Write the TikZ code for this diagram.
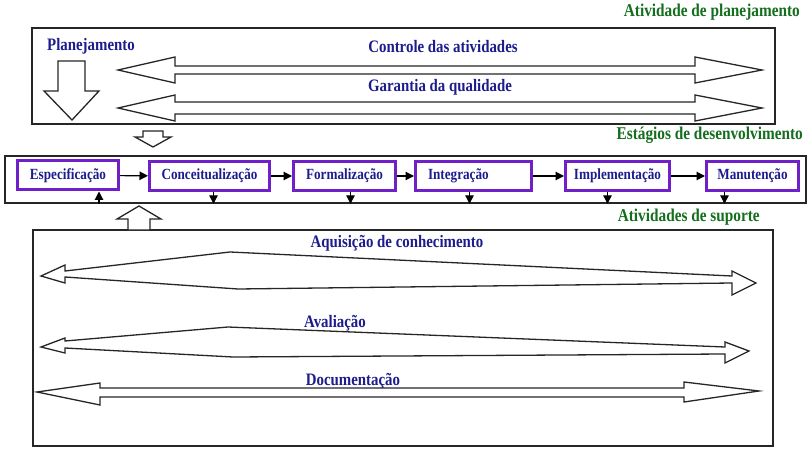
\documentclass[tikz,border=0pt]{standalone}
\usepackage{fontspec}
\setmainfont{Liberation Serif}[FakeStretch=0.85]
\usetikzlibrary{arrows.meta}

\definecolor{lblblue}{RGB}{28,28,140}
\definecolor{stagepurple}{RGB}{112,32,200}
\definecolor{lblgreen}{RGB}{20,110,30}

\tikzset{
  frame/.style={draw=black!85, line width=1.6pt, inner sep=0pt},
  blockarrow/.style={draw=black!85, line width=1.3pt, fill=white, line join=miter},
  stagebox/.style={draw=stagepurple, line width=3pt, minimum height=29pt, inner sep=0pt,
    font=\fontsize{15.5}{18}\selectfont\bfseries, text=lblblue},
  biglabel/.style={font=\fontsize{17.5}{20}\selectfont\bfseries, text=lblblue, inner sep=0pt},
  phaselabel/.style={font=\fontsize{18}{20}\selectfont\bfseries, text=lblgreen, inner sep=0pt},
  flow/.style={-{Triangle[length=8.5pt,width=8.5pt]}, line width=1.1pt},
}

\begin{document}
\begin{tikzpicture}[x=1pt, y=-1pt]
    \useasboundingbox (0,0) rectangle (810,454);

    % Atividade de planejamento
    \node[phaselabel, anchor=east] (planphase) at (800,12) {Atividade de planejamento};
    \node[frame, minimum width=743pt, minimum height=96pt] (planframe) at (403.5,76) {};
    \node[biglabel] (plan) at (91,46) {Planejamento};
    \draw[blockarrow] (58,61) -- (85,61) -- (85,91) -- (99,91) -- (72,120) -- (44,91) -- (58,91) -- cycle;

    \node[biglabel] (ctrl) at (443,47) {Controle das atividades};
    \draw[blockarrow] (118,70) -- (175,57) -- (175,66) -- (695,66) -- (695,57) -- (762,70)
        -- (695,83) -- (695,74) -- (175,74) -- (175,83) -- cycle;

    \node[biglabel] (qual) at (440,87) {Garantia da qualidade};
    \draw[blockarrow] (118,108) -- (175,95) -- (175,102) -- (695,102) -- (695,95) -- (762,108)
        -- (695,121) -- (695,114) -- (175,114) -- (175,121) -- cycle;

    % seta para os estagios
    \draw[blockarrow] (143,131) -- (163,131) -- (163,137) -- (171,137) -- (153,147) -- (135,137) -- (143,137) -- cycle;

    % Estagios de desenvolvimento
    \node[phaselabel, anchor=east] (devphase) at (803,135) {Estágios de desenvolvimento};
    \node[frame, minimum width=801pt, minimum height=47pt] (stageframe) at (405.5,179.5) {};

    \node[stagebox, minimum width=101pt] (spec) at (68,175.5) {Especificação};
    \node[stagebox, minimum width=120pt] (conc) at (209.5,176) {Conceitualização};
    \node[stagebox, minimum width=102pt] (form) at (344.5,176) {Formalização};
    \node[stagebox, minimum width=116pt, text width=91pt, align=left] (integ) at (473.5,176) {Integração};
    \node[stagebox, minimum width=104pt] (impl) at (617.5,176) {Implementação};
    \node[stagebox, minimum width=92pt] (manu) at (752.5,176) {Manutenção};

    \draw[flow] (spec) -- (conc);
    \draw[flow] (conc) -- (form);
    \draw[flow] (form) -- (integ);
    \draw[flow] (integ) -- (impl);
    \draw[flow] (impl) -- (manu);

    % saidas e entrada
    \draw[flow] ([xshift=31pt]spec.south |- stageframe.south) -- ([xshift=31pt]spec.south);
    \draw[flow] ([xshift=4pt]conc.south) -- ([xshift=4pt]conc.south |- stageframe.south);
    \draw[flow] ([xshift=6pt]form.south) -- ([xshift=6pt]form.south |- stageframe.south);
    \draw[flow] ([xshift=-4pt]integ.south) -- ([xshift=-4pt]integ.south |- stageframe.south);
    \draw[flow] ([xshift=-10pt]impl.south) -- ([xshift=-10pt]impl.south |- stageframe.south);
    \draw[flow] ([xshift=-28pt]manu.south) -- ([xshift=-28pt]manu.south |- stageframe.south);

    % Atividades de suporte
    \node[phaselabel, anchor=east] (suppphase) at (760,217) {Atividades de suporte};
    \node[frame, minimum width=740pt, minimum height=216pt] (suppframe) at (403,338) {};
    \draw[blockarrow] (139,206) -- (161,219) -- (150,219) -- (150,230) -- (128,230) -- (128,219) -- (117,219) -- cycle;

    \node[biglabel] (aquis) at (397,243) {Aquisição de conhecimento};
    \draw[blockarrow] (41,276) -- (65,265) -- (65,271) -- (230,252) -- (732,276) -- (732,271) -- (756,283)
        -- (732,295) -- (732,283) -- (238,289) -- (65,277) -- (65,283) -- cycle;

    \node[biglabel] (aval) at (335,323) {Avaliação};
    \draw[blockarrow] (41,347) -- (65,338) -- (65,341) -- (228,327) -- (725,347) -- (725,342) -- (749,351)
        -- (725,363) -- (725,354) -- (233,357) -- (65,348) -- (65,353) -- cycle;

    \node[biglabel] (docum) at (353,381) {Documentação};
    \draw[blockarrow] (37,392) -- (100,383) -- (100,388) -- (684,388) -- (684,382) -- (759,391)
        -- (684,402) -- (684,397) -- (100,397) -- (100,405) -- cycle;
\end{tikzpicture}
\end{document}
